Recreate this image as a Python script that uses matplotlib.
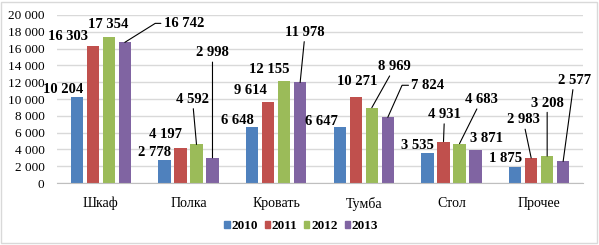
import numpy as np
import matplotlib.pyplot as plt
from matplotlib.patches import Rectangle, Patch
from matplotlib.ticker import FuncFormatter

plt.rcParams['font.family'] = ['Liberation Serif', 'DejaVu Serif']

categories = ['Шкаф', 'Полка', 'Кровать', 'Тумба', 'Стол', 'Прочее']
years = ['2010', '2011', '2012', '2013']
v2010 = [10204, 2778, 6648, 6647, 3535, 1875]
v2011 = [16303, 4197, 9614, 10271, 4931, 2983]
v2012 = [17354, 4592, 12155, 8969, 4683, 3208]
v2013 = [16742, 2998, 11978, 7824, 3871, 2577]
series = [v2010, v2011, v2012, v2013]
colors = ['#4F81BD', '#C0504D', '#9BBB59', '#8064A2']

# label position relative to bar top (pixels) and leader style
# None = no leader, 'l' = straight leader, angle number = elbow leader
label_pos = [
    [(-14, 8, None), (-10, 7, None), (-15, 7, None), (-18, 6, None), (-10, 8, None), (-10, 9, None)],
    [(-25, 10, None), (-15, 13, None), (-18, 12, None), (1, 15, None), (1, 27, 'l'), (-8, 38, 'l')],
    [(-1, 13, None), (-4, 45, 'l'), (-15, 11, None), (23, 41, 'l'), (22, 44, 'l'), (0, 53, 'l')],
    [(59, 19, 32), (0, 105, 'l'), (5, 50, 'l'), (40, 32, 66), (11, 12, None), (11, 81, 'l')],
]

fig = plt.figure(figsize=(5.99, 2.45), dpi=100)
fig.patches.append(Rectangle((1 / 599, 2 / 245), 596 / 599, 241 / 245, transform=fig.transFigure,
                             facecolor='none', edgecolor='#D9D9D9', lw=1))
ax = fig.add_axes([57 / 599, 1 - 183 / 245, 526 / 599, 168 / 245])

x = np.arange(len(categories))
width = 0.1425
step = 0.1824
for j, (vals, c) in enumerate(zip(series, colors)):
    xs = x + (j - 1.5) * step
    ax.bar(xs, vals, width, color=c, zorder=3)
    for i, v in enumerate(vals):
        dx, dy, lead = label_pos[j][i]
        txt = f'{v:,}'.replace(',', ' ')
        kw = dict(xy=(xs[i], v), xytext=(dx, dy), textcoords='offset pixels',
                  ha='center', va='center', fontsize=10.5, fontweight='bold', zorder=5)
        if lead == 'l':
            kw['arrowprops'] = dict(arrowstyle='-', color='black', lw=0.8, shrinkA=0, shrinkB=0)
        elif lead is not None:
            kw['arrowprops'] = dict(arrowstyle='-', color='black', lw=0.8, shrinkA=0, shrinkB=0,
                                    relpos=(0, 0.5),
                                    connectionstyle=f'angle,angleA=0,angleB={lead},rad=0')
        ax.annotate(txt, **kw)

ax.set_xlim(-0.5, 5.5)
ax.set_ylim(0, 20000)
ax.set_yticks(range(0, 20001, 2000))
ax.yaxis.set_major_formatter(FuncFormatter(lambda v, p: f'{int(v):,}'.replace(',', ' ')))
ax.set_xticks(x)
ax.set_xticklabels(categories)
ax.tick_params(axis='y', length=0, pad=9, labelsize=9.5)
ax.tick_params(axis='x', length=0, pad=10, labelsize=10)
ax.grid(axis='y', color='#D9D9D9', lw=1, zorder=0)
for s in ['left', 'right', 'top']:
    ax.spines[s].set_visible(False)
ax.spines['bottom'].set_color('#BFBFBF')
ax.spines['bottom'].set_zorder(4)

handles = [Patch(color=c) for c in colors]
fig.legend(handles, years, loc='center', bbox_to_anchor=(0.503, 1 - 226 / 245), ncol=4,
           frameon=False, handlelength=0.4, handleheight=0.4, handletextpad=0.15,
           columnspacing=0.5, prop={'weight': 'bold', 'size': 9.5})

fig.savefig('out.png', dpi=100)
